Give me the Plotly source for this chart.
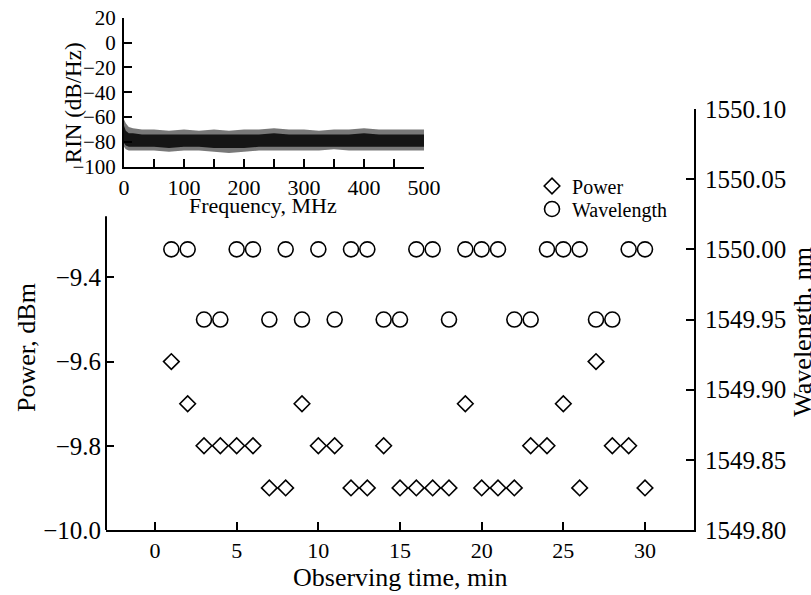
import plotly.graph_objects as go

# ---- main data ----
time_min = list(range(1, 31))
power_dbm = [-9.6, -9.7, -9.8, -9.8, -9.8, -9.8, -9.9, -9.9, -9.7, -9.8,
             -9.8, -9.9, -9.9, -9.8, -9.9, -9.9, -9.9, -9.9, -9.7, -9.9,
             -9.9, -9.9, -9.8, -9.8, -9.7, -9.9, -9.6, -9.8, -9.8, -9.9]
wavelength_nm = [1550.00, 1550.00, 1549.95, 1549.95, 1550.00, 1550.00, 1549.95, 1550.00, 1549.95, 1550.00,
                 1549.95, 1550.00, 1550.00, 1549.95, 1549.95, 1550.00, 1550.00, 1549.95, 1550.00, 1550.00,
                 1550.00, 1549.95, 1549.95, 1550.00, 1550.00, 1550.00, 1549.95, 1549.95, 1550.00, 1550.00]

x_ticks = [0, 5, 10, 15, 20, 25, 30]
power_ticks = [-10.0, -9.8, -9.6, -9.4]
wl_ticks = [1549.80, 1549.85, 1549.90, 1549.95, 1550.00, 1550.05, 1550.10]

# ---- inset (RIN spectrum envelope) ----
rin_freq = [0, 3, 8, 15, 30, 50, 75, 100, 125, 150, 175, 200, 225, 250, 275,
            300, 325, 350, 375, 400, 425, 450, 475, 500]
rin_outer_hi = [-62, -65, -68, -69, -70, -70, -71, -70, -71, -70, -71, -70, -70, -69, -70,
                -70, -71, -70, -70, -69, -70, -70, -70, -70]
rin_outer_lo = [-84, -86, -87, -87, -87, -87, -88, -87, -87, -88, -89, -88, -87, -87, -87,
                -87, -87, -86, -87, -87, -87, -87, -87, -87]
rin_inner_hi = [-67, -71, -73, -73, -74, -74, -74, -74, -74, -74, -74, -74, -74, -73, -74,
                -74, -74, -74, -74, -73, -74, -74, -74, -74]
rin_inner_lo = [-81, -83, -84, -84, -84, -84, -85, -84, -84, -85, -85, -85, -84, -84, -84,
                -84, -84, -84, -84, -84, -84, -84, -84, -84]
inset_xticks = [0, 50, 100, 150, 200, 250, 300, 350, 400, 450, 500]
inset_xlabels = ["0", "", "100", "", "200", "", "300", "", "400", "", "500"]
inset_yticks = [-100, -80, -60, -40, -20, 0, 20]

FONT = "Liberation Serif, Times New Roman, serif"

fig = go.Figure()

fig.add_trace(go.Scatter(
    x=time_min, y=power_dbm, mode="markers", name="Power", legend="legend",
    marker=dict(symbol="diamond-open", size=12, color="black", line=dict(width=1.6, color="black")),
    xaxis="x", yaxis="y"))
fig.add_trace(go.Scatter(
    x=time_min, y=wavelength_nm, mode="markers", name="Wavelength", legend="legend2",
    marker=dict(symbol="circle-open", size=15, color="black", line=dict(width=1.6, color="black")),
    xaxis="x", yaxis="y2"))

# inset bands
fig.add_trace(go.Scatter(x=rin_freq, y=rin_outer_lo, mode="lines", line=dict(width=0, color="rgba(0,0,0,0)"),
                         showlegend=False, hoverinfo="skip", xaxis="x3", yaxis="y3"))
fig.add_trace(go.Scatter(x=rin_freq, y=rin_outer_hi, mode="lines", line=dict(width=0, color="rgba(0,0,0,0)"),
                         fill="tonexty", fillcolor="rgba(30,30,30,0.6)",
                         showlegend=False, hoverinfo="skip", xaxis="x3", yaxis="y3"))
fig.add_trace(go.Scatter(x=rin_freq, y=rin_inner_lo, mode="lines", line=dict(width=0, color="rgba(0,0,0,0)"),
                         showlegend=False, hoverinfo="skip", xaxis="x3", yaxis="y3"))
fig.add_trace(go.Scatter(x=rin_freq, y=rin_inner_hi, mode="lines", line=dict(width=0, color="rgba(0,0,0,0)"),
                         fill="tonexty", fillcolor="rgba(10,10,10,0.9)",
                         showlegend=False, hoverinfo="skip", xaxis="x3", yaxis="y3"))

axis_common = dict(showgrid=False, zeroline=False, ticks="inside", ticklen=8, tickwidth=2,
                   tickcolor="black", linecolor="black", linewidth=2, automargin=False)

main_y_top = 0.8096

leg_common = dict(x=0.7245, xanchor="left", yanchor="middle", bgcolor="rgba(0,0,0,0)",
                  font=dict(size=20, family=FONT, color="black"), itemwidth=30)

fig.update_layout(
    width=811, height=595,
    margin=dict(l=106, r=117, t=10, b=65, autoexpand=False),
    paper_bgcolor="white", plot_bgcolor="white",
    font=dict(family=FONT, color="black", size=22),
    xaxis=dict(axis_common, domain=[0, 1], range=[-3, 33], tickvals=x_ticks,
               showline=True, anchor="y", tickfont=dict(size=22)),
    yaxis=dict(axis_common, domain=[0, main_y_top], range=[-10.0, -9.0], tickvals=power_ticks,
               tickformat=".1f", showline=False, anchor="x", tickfont=dict(size=25),
               ticklabelstandoff=4),
    yaxis2=dict(axis_common, domain=[0, main_y_top], range=[1549.80, 1550.10], tickvals=wl_ticks,
                tickformat=".2f", overlaying="y", side="right", anchor="x", showline=True,
                tickfont=dict(size=25), ticklabelstandoff=4),
    xaxis3=dict(axis_common, domain=[0.0306, 0.5408], range=[0, 500], tickvals=inset_xticks,
                ticktext=inset_xlabels, showline=True, anchor="y3", tickfont=dict(size=22)),
    yaxis3=dict(axis_common, domain=[0.6987, 0.9852], range=[-100, 20], tickvals=inset_yticks,
                showline=True, anchor="x3", tickfont=dict(size=21), ticklabelstandoff=2),
    legend=dict(leg_common, y=0.6615),
    legend2=dict(leg_common, y=0.6173),
    showlegend=True,
)

# visible part of the left spine of the main axes (upper part hidden under the inset)
fig.add_shape(type="line", xref="paper", yref="y", x0=0, x1=0, y0=-10.0, y1=-9.255,
              line=dict(color="black", width=2))

ann = dict(showarrow=False, xref="paper", yref="paper")
fig.add_annotation(ann, text="Observing time, min", x=0.5, y=-0.0923, xanchor="center", yanchor="middle",
                   font=dict(size=26, family=FONT, color="black"))
fig.add_annotation(ann, text="Power, dBm", x=-0.136, y=0.35, textangle=-90, xanchor="center", yanchor="middle",
                   font=dict(size=26, family=FONT, color="black"))
fig.add_annotation(ann, text="Wavelength, nm", x=1.185, y=0.381, textangle=-90, xanchor="center", yanchor="middle",
                   font=dict(size=26, family=FONT, color="black"))
fig.add_annotation(ann, text="Frequency, MHz", x=0.267, y=0.625, xanchor="center", yanchor="middle",
                   font=dict(size=22, family=FONT, color="black"))
fig.add_annotation(ann, text="RIN (dB/Hz)", x=-0.056, y=0.821, textangle=-90, xanchor="center", yanchor="middle",
                   font=dict(size=23, family=FONT, color="black"))

fig.write_html("out.html", config={"displayModeBar": False},
               post_script="document.body.style.margin='0';")
